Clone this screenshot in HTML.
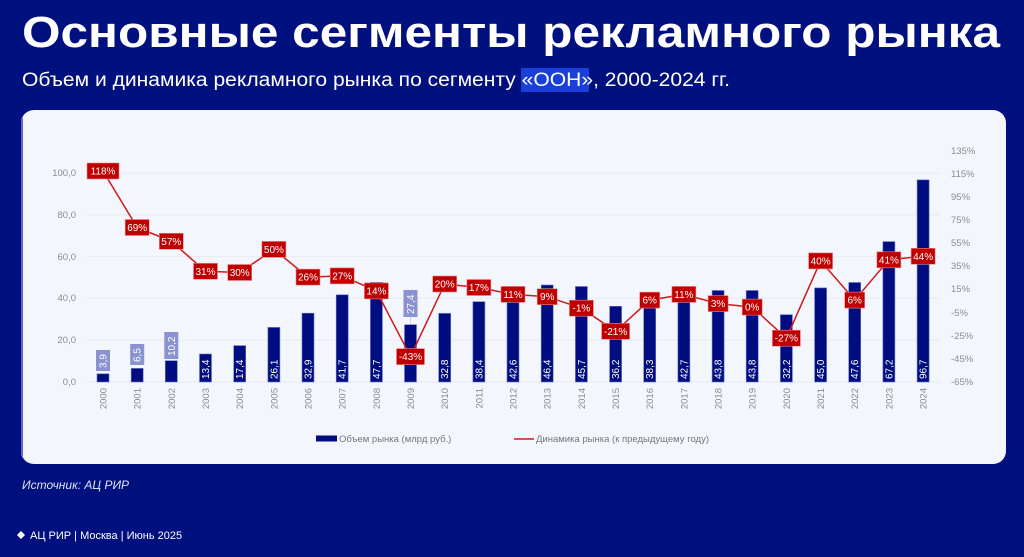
<!DOCTYPE html>
<html><head><meta charset="utf-8"><style>
html,body{margin:0;padding:0;background:#01107f;}
svg{display:block;font-family:"Liberation Sans",sans-serif;}
</style></head><body>
<svg width="1024" height="557" viewBox="0 0 1024 557" xmlns="http://www.w3.org/2000/svg">
<rect width="1024" height="557" fill="#01107f"/>
<text x="22" y="47" fill="#fff" font-size="44" font-weight="bold" textLength="978" lengthAdjust="spacingAndGlyphs">Основные сегменты рекламного рынка</text>
<rect x="521" y="68" width="68" height="24" fill="#1a3fd8"/>
<text x="22" y="86" fill="#fff" font-size="19" textLength="708" lengthAdjust="spacingAndGlyphs">Объем и динамика рекламного рынка по сегменту «ООН», 2000-2024 гг.</text>
<rect x="21" y="110" width="985" height="354" rx="13" fill="#f4f6fd"/>
<rect x="21" y="118" width="2" height="338" fill="#5a66c8"/>
<g stroke="#e8eaf2" stroke-width="1">
<line x1="87" y1="382" x2="940" y2="382"/><line x1="87" y1="340.2" x2="940" y2="340.2"/><line x1="87" y1="298.4" x2="940" y2="298.4"/><line x1="87" y1="256.6" x2="940" y2="256.6"/><line x1="87" y1="214.8" x2="940" y2="214.8"/><line x1="87" y1="173" x2="940" y2="173"/>
</g>
<g fill="#8a8a94" font-size="9.5" text-anchor="end">
<text x="76" y="385">0,0</text><text x="76" y="343">20,0</text><text x="76" y="301">40,0</text><text x="76" y="260">60,0</text><text x="76" y="218">80,0</text><text x="76" y="176">100,0</text>
</g>
<g fill="#8a8a94" font-size="9.5">
<text x="951" y="154">135%</text><text x="951" y="177">115%</text><text x="951" y="200">95%</text><text x="951" y="223">75%</text><text x="951" y="246">55%</text><text x="951" y="269">35%</text><text x="951" y="292">15%</text><text x="951" y="316">-5%</text><text x="951" y="339">-25%</text><text x="951" y="362">-45%</text><text x="951" y="385">-65%</text>
</g>
<g fill="#000d80" stroke="#6673c8" stroke-width="0.6">
<rect x="97" y="373.8" width="12" height="8.2"/><rect x="131.2" y="368.4" width="12" height="13.6"/><rect x="165.3" y="360.7" width="12" height="21.3"/><rect x="199.5" y="354" width="12" height="28"/><rect x="233.7" y="345.6" width="12" height="36.4"/><rect x="267.9" y="327.4" width="12" height="54.6"/><rect x="302" y="313.2" width="12" height="68.8"/><rect x="336.2" y="294.8" width="12" height="87.2"/><rect x="370.4" y="282.3" width="12" height="99.7"/><rect x="404.5" y="324.7" width="12" height="57.3"/><rect x="438.7" y="313.4" width="12" height="68.6"/><rect x="472.9" y="301.7" width="12" height="80.3"/><rect x="507" y="293" width="12" height="89"/><rect x="541.2" y="285" width="12" height="97"/><rect x="575.4" y="286.5" width="12" height="95.5"/><rect x="609.6" y="306.3" width="12" height="75.7"/><rect x="643.7" y="302" width="12" height="80"/><rect x="677.9" y="292.8" width="12" height="89.2"/><rect x="712.1" y="290.5" width="12" height="91.5"/><rect x="746.2" y="290.5" width="12" height="91.5"/><rect x="780.4" y="314.7" width="12" height="67.3"/><rect x="814.6" y="287.9" width="12" height="94.1"/><rect x="848.7" y="282.5" width="12" height="99.5"/><rect x="882.9" y="241.6" width="12" height="140.4"/><rect x="917.1" y="179.9" width="12" height="202.1"/>
</g>
<g fill="#8a93d0">
<rect x="96" y="350" width="14" height="21"/><rect x="130.2" y="344" width="14" height="21"/><rect x="164.3" y="332" width="14" height="27"/><rect x="403.5" y="290" width="14" height="27"/>
</g>
<line x1="410.5" y1="317" x2="410.5" y2="324" stroke="#bbb" stroke-width="0.6"/>
<g fill="#fff" font-size="10">
<text transform="translate(106.5,368) rotate(-90)">3,9</text>
<text transform="translate(140.7,362) rotate(-90)">6,5</text>
<text transform="translate(174.8,356) rotate(-90)">10,2</text>
<text transform="translate(414,314) rotate(-90)">27,4</text>
<text transform="translate(209,379) rotate(-90)">13,4</text>
<text transform="translate(243.2,379) rotate(-90)">17,4</text>
<text transform="translate(277.4,379) rotate(-90)">26,1</text>
<text transform="translate(311.5,379) rotate(-90)">32,9</text>
<text transform="translate(345.7,379) rotate(-90)">41,7</text>
<text transform="translate(379.9,379) rotate(-90)">47,7</text>
<text transform="translate(448.2,379) rotate(-90)">32,8</text>
<text transform="translate(482.4,379) rotate(-90)">38,4</text>
<text transform="translate(516.5,379) rotate(-90)">42,6</text>
<text transform="translate(550.7,379) rotate(-90)">46,4</text>
<text transform="translate(584.9,379) rotate(-90)">45,7</text>
<text transform="translate(619.1,379) rotate(-90)">36,2</text>
<text transform="translate(653.2,379) rotate(-90)">38,3</text>
<text transform="translate(687.4,379) rotate(-90)">42,7</text>
<text transform="translate(721.6,379) rotate(-90)">43,8</text>
<text transform="translate(755.7,379) rotate(-90)">43,8</text>
<text transform="translate(789.9,379) rotate(-90)">32,2</text>
<text transform="translate(824.1,379) rotate(-90)">45,0</text>
<text transform="translate(858.2,379) rotate(-90)">47,6</text>
<text transform="translate(892.4,379) rotate(-90)">67,2</text>
<text transform="translate(926.6,379) rotate(-90)">96,7</text>
</g>
<g fill="#8a8a94" font-size="9.5" text-anchor="end">
<text transform="translate(106.5,388) rotate(-90)">2000</text><text transform="translate(140.7,388) rotate(-90)">2001</text><text transform="translate(174.8,388) rotate(-90)">2002</text><text transform="translate(209,388) rotate(-90)">2003</text><text transform="translate(243.2,388) rotate(-90)">2004</text><text transform="translate(277.4,388) rotate(-90)">2005</text><text transform="translate(311.5,388) rotate(-90)">2006</text><text transform="translate(345.7,388) rotate(-90)">2007</text><text transform="translate(379.9,388) rotate(-90)">2008</text><text transform="translate(414,388) rotate(-90)">2009</text><text transform="translate(448.2,388) rotate(-90)">2010</text><text transform="translate(482.4,388) rotate(-90)">2011</text><text transform="translate(516.5,388) rotate(-90)">2012</text><text transform="translate(550.7,388) rotate(-90)">2013</text><text transform="translate(584.9,388) rotate(-90)">2014</text><text transform="translate(619.1,388) rotate(-90)">2015</text><text transform="translate(653.2,388) rotate(-90)">2016</text><text transform="translate(687.4,388) rotate(-90)">2017</text><text transform="translate(721.6,388) rotate(-90)">2018</text><text transform="translate(755.7,388) rotate(-90)">2019</text><text transform="translate(789.9,388) rotate(-90)">2020</text><text transform="translate(824.1,388) rotate(-90)">2021</text><text transform="translate(858.2,388) rotate(-90)">2022</text><text transform="translate(892.4,388) rotate(-90)">2023</text><text transform="translate(926.6,388) rotate(-90)">2024</text>
</g>
<polyline fill="none" stroke="#d01818" stroke-width="1.5" points="103,171 137.2,227.5 171.3,241.3 205.5,271.3 239.7,272.5 273.9,249.4 308,277.1 342.2,275.9 376.4,290.9 410.5,356.6 444.7,284 478.9,287.5 513,294.4 547.2,296.7 581.4,308.2 615.6,331.3 649.7,300.1 683.9,294.4 718.1,303.6 752.2,307.1 786.4,338.2 820.6,260.9 854.7,300.1 888.9,259.8 923.1,256.3"/>
<g fill="#c00000" stroke="#e88" stroke-width="0.6">
<rect x="87" y="163" width="32" height="16"/><rect x="125.2" y="219.5" width="24" height="16"/><rect x="159.3" y="233.3" width="24" height="16"/><rect x="193.5" y="263.3" width="24" height="16"/><rect x="227.7" y="264.5" width="24" height="16"/><rect x="261.9" y="241.4" width="24" height="16"/><rect x="296" y="269.1" width="24" height="16"/><rect x="330.2" y="267.9" width="24" height="16"/><rect x="364.4" y="282.9" width="24" height="16"/><rect x="396.5" y="348.6" width="28" height="16"/><rect x="432.7" y="276" width="24" height="16"/><rect x="466.9" y="279.5" width="24" height="16"/><rect x="501" y="286.4" width="24" height="16"/><rect x="537.2" y="288.7" width="20" height="16"/><rect x="569.4" y="300.2" width="24" height="16"/><rect x="601.6" y="323.3" width="28" height="16"/><rect x="639.7" y="292.1" width="20" height="16"/><rect x="671.9" y="286.4" width="24" height="16"/><rect x="708.1" y="295.6" width="20" height="16"/><rect x="742.2" y="299.1" width="20" height="16"/><rect x="772.4" y="330.2" width="28" height="16"/><rect x="808.6" y="252.9" width="24" height="16"/><rect x="844.7" y="292.1" width="20" height="16"/><rect x="876.9" y="251.8" width="24" height="16"/><rect x="911.1" y="248.3" width="24" height="16"/>
</g>
<g fill="#fff" font-size="10" text-anchor="middle">
<text x="103" y="174.5">118%</text><text x="137.2" y="231">69%</text><text x="171.3" y="244.8">57%</text><text x="205.5" y="274.8">31%</text><text x="239.7" y="276">30%</text><text x="273.9" y="252.9">50%</text><text x="308" y="280.6">26%</text><text x="342.2" y="279.4">27%</text><text x="376.4" y="294.4">14%</text><text x="410.5" y="360.1">-43%</text><text x="444.7" y="287.5">20%</text><text x="478.9" y="291">17%</text><text x="513" y="297.9">11%</text><text x="547.2" y="300.2">9%</text><text x="581.4" y="311.7">-1%</text><text x="615.6" y="334.8">-21%</text><text x="649.7" y="303.6">6%</text><text x="683.9" y="297.9">11%</text><text x="718.1" y="307.1">3%</text><text x="752.2" y="310.6">0%</text><text x="786.4" y="341.7">-27%</text><text x="820.6" y="264.4">40%</text><text x="854.7" y="303.6">6%</text><text x="888.9" y="263.3">41%</text><text x="923.1" y="259.8">44%</text>
</g>
<rect x="316" y="435.5" width="21" height="6" fill="#000d80"/>
<text x="339" y="442" fill="#777" font-size="9.5">Объем рынка (млрд руб.)</text>
<line x1="514" y1="439" x2="534" y2="439" stroke="#d01818" stroke-width="1.5"/>
<text x="536" y="442" fill="#777" font-size="9.5">Динамика рынка (к предыдущему году)</text>
<text x="22" y="489" fill="#dfe3f5" font-size="12" font-style="italic">Источник: АЦ РИР</text>
<path d="M21 531 L25 535 L21 539 L17 535 Z" fill="#fff"/>
<text x="30" y="539" fill="#fff" font-size="11">АЦ РИР  |  Москва  |  Июнь 2025</text>
</svg>
</body></html>
